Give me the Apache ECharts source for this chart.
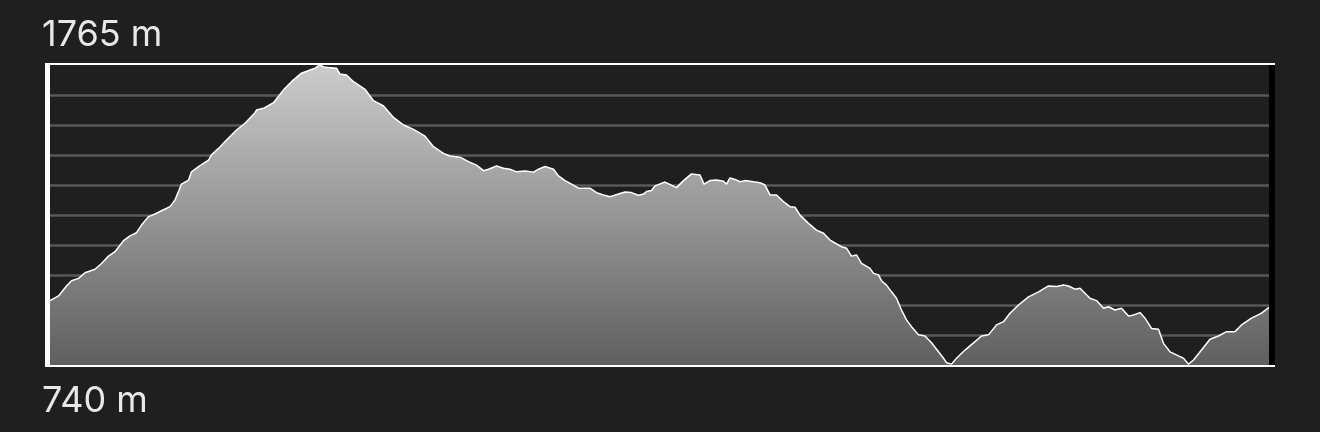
<!DOCTYPE html>
<html>
<head>
<meta charset="utf-8">
<script src="https://cdn.jsdelivr.net/npm/echarts@6/dist/echarts.min.js"></script>
<style>
  html, body { margin: 0; padding: 0; background: #1f1f1f; }
  #chart { width: 1320px; height: 432px; }
</style>
</head>
<body>
<div id="chart"></div>
<script>
const distanceKm = [
  0, 0.17, 0.33, 0.43, 0.57, 0.70, 0.90, 1.03, 1.17, 1.30, 1.47, 1.60, 1.73, 1.83, 1.97, 2.10, 2.23, 2.40, 2.50, 2.63,
  2.77, 2.83, 2.97, 3.17, 3.23, 3.37, 3.53, 3.73, 3.90, 4.10, 4.13, 4.27, 4.47, 4.67, 4.83, 5.03, 5.20, 5.30, 5.39, 5.50,
  5.73, 5.80, 5.93, 6.07, 6.30, 6.47, 6.67, 6.87, 7.07, 7.27, 7.50, 7.67, 7.87, 8.00, 8.20, 8.37, 8.53, 8.67, 8.77, 8.93,
  9.07, 9.20, 9.33, 9.50, 9.67, 9.77, 9.90, 10.07, 10.17, 10.30, 10.43, 10.57, 10.80, 10.93, 11.07, 11.20, 11.37, 11.50, 11.63, 11.77,
  11.87, 11.93, 12.03, 12.10, 12.30, 12.53, 12.67, 12.83, 13.00, 13.08, 13.20, 13.33, 13.47, 13.53, 13.60, 13.70, 13.80, 13.90, 14.07, 14.20,
  14.30, 14.40, 14.53, 14.67, 14.80, 14.90, 15.00, 15.17, 15.33, 15.47, 15.60, 15.83, 15.93, 16.03, 16.13, 16.23, 16.40, 16.47, 16.57, 16.63,
  16.73, 16.83, 16.93, 17.03, 17.13, 17.23, 17.37, 17.50, 17.63, 17.77, 17.87, 17.93, 18.03, 18.13, 18.30, 18.50, 18.63, 18.77, 18.93, 19.07,
  19.20, 19.37, 19.57, 19.77, 19.97, 20.13, 20.27, 20.37, 20.50, 20.60, 20.70, 20.80, 20.93, 21.07, 21.17, 21.30, 21.43, 21.57, 21.67, 21.80,
  21.90, 22.03, 22.17, 22.27, 22.40, 22.57, 22.67, 22.77, 22.87, 23.03, 23.20, 23.37, 23.53, 23.70, 23.83, 24.03, 24.23, 24.38
];
const elevationM = [
  960, 976, 1010, 1028, 1036, 1055, 1067, 1087, 1112, 1127, 1165, 1181, 1192, 1218, 1247, 1256, 1267, 1281, 1304, 1358,
  1372, 1400, 1418, 1440, 1458, 1480, 1509, 1543, 1566, 1602, 1611, 1617, 1636, 1680, 1708, 1737, 1748, 1754, 1765, 1757,
  1754, 1734, 1731, 1708, 1682, 1643, 1625, 1586, 1560, 1545, 1522, 1486, 1463, 1454, 1450, 1435, 1423, 1404, 1409, 1420,
  1412, 1409, 1400, 1403, 1399, 1409, 1418, 1409, 1386, 1370, 1358, 1344, 1344, 1329, 1321, 1315, 1324, 1331, 1329, 1320,
  1324, 1333, 1336, 1352, 1365, 1346, 1370, 1393, 1389, 1358, 1370, 1372, 1368, 1358, 1379, 1374, 1366, 1370, 1366, 1363,
  1355, 1321, 1321, 1298, 1281, 1279, 1252, 1224, 1201, 1190, 1167, 1144, 1139, 1112, 1116, 1087, 1070, 1053, 1048, 1028,
  1013, 990, 968, 928, 894, 871, 843, 839, 816, 785, 763, 748, 743, 763, 791, 820, 839, 843, 877, 888,
  917, 945, 973, 990, 1010, 1008, 1013, 1010, 999, 1002, 985, 968, 960, 934, 939, 928, 934, 907, 911, 919,
  900, 865, 862, 814, 785, 771, 763, 743, 757, 791, 828, 839, 854, 854, 877, 900, 917, 937
];
const yMin = 740;
const yMax = 1765;
const unit = 'm';
const gridDivisions = 10;

const chart = echarts.init(document.getElementById('chart'), null, { renderer: 'canvas' });

const G = { left: 50, right: 51, top: 65, bottom: 67 };
const W = 1320, H = 432;
const plotL = G.left, plotR = W - G.right, plotT = G.top, plotB = H - G.bottom;

const option = {
  backgroundColor: '#1f1f1f',
  animation: false,
  grid: { left: G.left, right: G.right, top: G.top, bottom: G.bottom, containLabel: false },
  xAxis: {
    type: 'value', min: 0, max: distanceKm[distanceKm.length - 1],
    show: false
  },
  yAxis: [
    {
      type: 'value', min: yMin, max: yMax,
      axisLine: { show: false }, axisTick: { show: false }, axisLabel: { show: false },
      splitLine: { show: false }
    },
    {
      type: 'value', min: 0, max: gridDivisions, interval: 1,
      axisLine: { show: false }, axisTick: { show: false }, axisLabel: { show: false },
      splitLine: { show: true, showMinLine: false, showMaxLine: false, lineStyle: { color: '#585858', width: 2.5 } }
    }
  ],
  series: [{
    type: 'line',
    yAxisIndex: 0,
    data: distanceKm.map((d, i) => [d, elevationM[i]]),
    showSymbol: false,
    symbol: 'none',
    sampling: null,
    lineStyle: { color: '#ffffff', width: 1.5 },
    areaStyle: {
      opacity: 1,
      color: new echarts.graphic.LinearGradient(0, 0, 0, 1, [
        { offset: 0, color: '#cccccc' },
        { offset: 1, color: '#5f5f5f' }
      ])
    },
    z: 3
  }],
  graphic: [
    { type: 'rect', z: 100, shape: { x: plotL - 5, y: plotT - 2, width: plotR - plotL + 11, height: 2 }, style: { fill: '#ffffff' } },
    { type: 'rect', z: 100, shape: { x: plotL - 5, y: plotB, width: plotR - plotL + 11, height: 2 }, style: { fill: '#ffffff' } },
    { type: 'rect', z: 100, shape: { x: plotL - 5, y: plotT - 2, width: 5, height: plotB - plotT + 4 }, style: { fill: '#ffffff' } },
    { type: 'rect', z: 100, shape: { x: plotR, y: plotT, width: 6, height: plotB - plotT }, style: { fill: '#000000' } },
    { type: 'text', z: 100, left: 42, top: 17, style: { text: yMax + ' ' + unit, fill: '#e8e8e8', font: '36px Inter' } },
    { type: 'text', z: 100, left: 42, top: 383, style: { text: yMin + ' ' + unit, fill: '#e8e8e8', font: '36px Inter' } }
  ]
};
chart.setOption(option);
</script>
</body>
</html>
